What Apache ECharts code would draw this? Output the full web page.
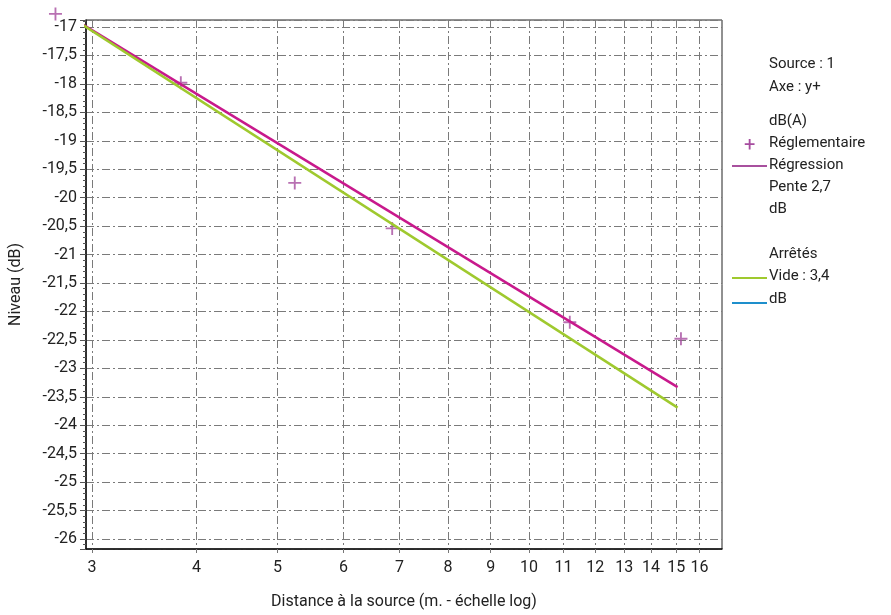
<!DOCTYPE html>
<html>
<head>
<meta charset="UTF-8"/>
<title>Niveau en fonction de la distance</title>
<script src="https://cdn.jsdelivr.net/npm/echarts@6/dist/echarts.min.js"></script>
<style>
  html, body { margin: 0; padding: 0; background: #fff; }
  #placeholder { width: 891px; height: 615px; }
</style>
</head>
<body>
<div id="placeholder"></div>
<script type="text/javascript">
// ticks de l'axe des distances (échelle log)
var distTicks = [3, 4, 5, 6, 7, 8, 9, 10, 11, 12, 13, 14, 15, 16];

// mesures (croix)
var mesDist = [2.713, 3.832, 5.245, 6.86, 11.19, 15.2];
var mesNiveau = [-16.77, -17.98, -19.74, -20.54, -22.19, -22.48];

// droite de régression
var regDist = [2.832, 15.06];
var regNiveau = [-16.83, -23.33];

// arrêtés, vide
var videDist = [2.832, 15.06];
var videNiveau = [-16.83, -23.69];

function pairs(xs, ys) {
  var out = [];
  for (var i = 0; i < xs.length; i++) out.push([xs[i], ys[i]]);
  return out;
}

var font = 'Roboto';
var txt = '#222';
var gridStyle = { color: '#7a7a7a', width: 1, type: [8, 3, 2, 3] };

var myChart = echarts.init(document.getElementById('placeholder'));
var option = {
  animation: false,
  textStyle: { fontFamily: font },
  grid: {
    left: 83, top: 20, right: 169, bottom: 64,
    show: true, borderColor: '#222', borderWidth: 1
  },
  xAxis: {
    type: 'log',
    logBase: 10,
    min: 2.951,
    max: 17.02,
    name: 'Distance à la source (m. - échelle log)',
    nameLocation: 'middle',
    nameGap: 45,
    nameTextStyle: { fontFamily: font, fontSize: 16, color: txt },
    axisLine: { lineStyle: { color: '#111', width: 1.5 } },
    axisTick: { show: true, length: 4, lineStyle: { color: '#777' }, customValues: distTicks },
    axisLabel: { fontFamily: font, fontSize: 16, color: txt, margin: 11, customValues: distTicks },
    splitLine: { show: true, lineStyle: gridStyle },
    minorTick: { show: false }
  },
  yAxis: {
    type: 'value',
    min: -26.175,
    max: -16.877,
    splitNumber: 18,
    name: 'Niveau (dB)',
    nameLocation: 'middle',
    nameGap: 62,
    nameTextStyle: { fontFamily: font, fontSize: 16, color: txt },
    axisLine: { show: true, lineStyle: { color: '#111', width: 1.5 } },
    axisTick: { show: true, length: 6, lineStyle: { color: '#555' } },
    minorTick: { show: true, splitNumber: 5, length: 3, lineStyle: { color: '#555' } },
    axisLabel: {
      fontFamily: font, fontSize: 16, color: txt, margin: 9,
      showMinLabel: false, showMaxLabel: false,
      formatter: function (v) { return String(v).replace('.', ','); }
    },
    splitLine: { show: true, lineStyle: gridStyle }
  },
  series: [
    {
      name: 'Réglementaire',
      type: 'scatter',
      clip: false,
      symbol: 'path://M6,0H8V6H14V8H8V14H6V8H0V6H6Z',
      symbolSize: 13,
      itemStyle: { color: '#a64c9f' },
      data: pairs(mesDist, mesNiveau),
      z: 2
    },
    {
      name: 'Régression',
      type: 'line',
      clip: false,
      showSymbol: false,
      lineStyle: { color: '#c8198c', width: 2.5 },
      data: pairs(regDist, regNiveau),
      z: 3
    },
    {
      name: 'Vide : 3,4',
      type: 'line',
      clip: false,
      showSymbol: false,
      lineStyle: { color: '#9fc92e', width: 2.5 },
      data: pairs(videDist, videNiveau),
      z: 4
    }
  ],
  graphic: [
    { type: 'text', left: 769, top: 57, style: { text: 'Source : 1', font: '15px Roboto', fill: txt } },
    { type: 'text', left: 769, top: 80, style: { text: 'Axe : y+', font: '15px Roboto', fill: txt } },
    { type: 'text', left: 769, top: 114, style: { text: 'dB(A)', font: '15px Roboto', fill: txt } },
    { type: 'text', left: 744, top: 136, style: { text: '+', font: '20px Roboto', fill: '#a64c9f' } },
    { type: 'text', left: 769, top: 136, style: { text: 'Réglementaire', font: '15px Roboto', fill: txt } },
    { type: 'line', shape: { x1: 732, y1: 166, x2: 767, y2: 166 }, style: { stroke: '#a8509e', lineWidth: 2 } },
    { type: 'text', left: 769, top: 158, style: { text: 'Régression', font: '15px Roboto', fill: txt } },
    { type: 'text', left: 769, top: 180, style: { text: 'Pente 2,7', font: '15px Roboto', fill: txt } },
    { type: 'text', left: 769, top: 202, style: { text: 'dB', font: '15px Roboto', fill: txt } },
    { type: 'text', left: 769, top: 247, style: { text: 'Arrêtés', font: '15px Roboto', fill: txt } },
    { type: 'line', shape: { x1: 732, y1: 278, x2: 767, y2: 278 }, style: { stroke: '#9fc92e', lineWidth: 2 } },
    { type: 'text', left: 769, top: 269, style: { text: 'Vide : 3,4', font: '15px Roboto', fill: txt } },
    { type: 'line', shape: { x1: 732, y1: 303, x2: 767, y2: 303 }, style: { stroke: '#1e8fcc', lineWidth: 2 } },
    { type: 'text', left: 769, top: 292, style: { text: 'dB', font: '15px Roboto', fill: txt } }
  ]
};
myChart.setOption(option, true);
</script>
</body>
</html>
